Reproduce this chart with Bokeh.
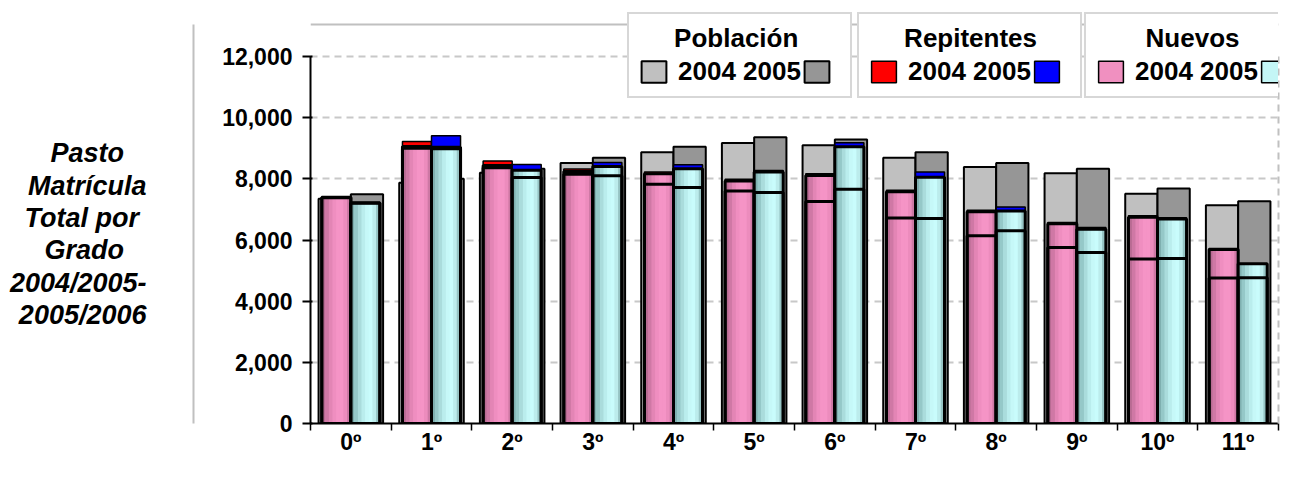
import numpy as np
from bokeh.plotting import figure
from bokeh.models import (ColumnDataSource, Range1d, FixedTicker, NumeralTickFormatter,
                          Legend, LegendItem, LinearAxis, Span)
from bokeh.transform import dodge
from bokeh.embed import file_html
from bokeh.resources import INLINE

# ---------------- data ----------------
grados = ["0º", "1º", "2º", "3º", "4º", "5º", "6º", "7º", "8º", "9º", "10º", "11º"]

poblacion_2004 = [7350, 7870, 8200, 8520, 8870, 9170, 9100, 8690, 8390, 8180, 7510, 7140]
poblacion_2005 = [7500, 8000, 8330, 8690, 9050, 9360, 9290, 8870, 8520, 8330, 7680, 7270]

nuevos_2004 = [7400, 9060, 8440, 8240, 8170, 7930, 8110, 7580, 6920, 6530, 6740, 5690]
nuevos_2004_interno = [7380, 9000, 8360, 8150, 7820, 7605, 7260, 6720, 6136, 5755, 5375, 4755]
repitentes_2004 = [0, 160, 140, 80, 55, 55, 60, 50, 55, 40, 50, 35]

nuevos_2005 = [7220, 9030, 8280, 8400, 8330, 8220, 9050, 8050, 6950, 6350, 6690, 5220]
nuevos_2005_interno = [7200, 8980, 8040, 8100, 7720, 7550, 7660, 6700, 6300, 5590, 5395, 4765]
repitentes_2005 = [0, 380, 190, 130, 130, 50, 130, 170, 130, 60, 40, 0]

ticks_y = [0, 2000, 4000, 6000, 8000, 10000, 12000]
titulo_eje = ["Pasto", "Matrícula", "Total por", "Grado", "2004/2005-", "2005/2006"]

# ---------------- source ----------------
n = len(grados)
xc = np.arange(n) + 0.5
src = ColumnDataSource(dict(
    x=xc,
    pob04=poblacion_2004, pob05=poblacion_2005,
    nue04=nuevos_2004, int04=nuevos_2004_interno,
    tot04=np.array(nuevos_2004) + np.array(repitentes_2004),
    nue05=nuevos_2005, int05=nuevos_2005_interno,
    tot05=np.array(nuevos_2005) + np.array(repitentes_2005),
))

FONT = "Liberation Sans"
NB = "\u00a0"

# frame: x 310..1278, y 12..423 ; value 12000 sits at y=56
YTOP = 12000 * (423 - 12) / (423 - 56)
YBORDER = YTOP * (423 - 24) / (423 - 12)

p = figure(width=1293, height=483, output_backend="svg", toolbar_location=None,
           x_range=Range1d(0, n), y_range=Range1d(0, YTOP),
           min_border_left=310, min_border_right=15, min_border_top=12, min_border_bottom=60,
           background_fill_color="white", border_fill_color="white")

p.outline_line_color = None

p.xgrid.grid_line_color = None
p.ygrid.grid_line_color = "#c8c8c8"
p.ygrid.grid_line_dash = "7 5"
p.ygrid.grid_line_width = 2

# ---------------- axes ----------------
ya = p.yaxis[0]
ya.ticker = FixedTicker(ticks=ticks_y)
ya.bounds = (0, 12000)
ya.formatter = NumeralTickFormatter(format="0,0")
ya.major_label_text_font = FONT
ya.major_label_text_font_style = "bold"
ya.major_label_text_font_size = "23px"
ya.major_label_text_color = "black"
ya.major_tick_out = 8
ya.major_tick_in = 2
ya.major_tick_line_width = 2
ya.minor_tick_line_color = None
ya.axis_line_width = 2
ya.major_label_standoff = 10
ya.axis_label = NB
ya.axis_label_text_font_size = "10px"
ya.axis_label_standoff = 12

xa = p.xaxis[0]
xa.ticker = FixedTicker(ticks=list(xc), minor_ticks=list(range(n + 1)))
xa.major_label_overrides = {float(v): g for v, g in zip(xc, grados)}
xa.major_tick_line_color = None
xa.major_tick_out = 0
xa.major_tick_in = 0
xa.minor_tick_out = 7
xa.minor_tick_in = 0
xa.minor_tick_line_width = 1.5
xa.minor_tick_line_color = "black"
xa.axis_line_width = 2
xa.major_label_text_font = FONT
xa.major_label_text_font_style = "bold"
xa.major_label_text_font_size = "23px"
xa.major_label_text_color = "black"
xa.major_label_standoff = -2

# centre each title line (the label block is right-aligned): pad with no-break spaces
pads = [3, 0, 1, 3, 0, 0]
titulo_txt = "\n".join([NB] + [t + NB * k for t, k in zip(titulo_eje, pads)])

# chart-area border (left) carrying the vertical title
border_axis = LinearAxis(ticker=FixedTicker(ticks=[]), bounds=(0, YBORDER),
                         axis_line_color="#c0c0c0", axis_line_width=2,
                         major_tick_line_color=None, minor_tick_line_color=None,
                         major_tick_out=0, major_tick_in=0, minor_tick_out=0,
                         axis_label=titulo_txt,
                         axis_label_orientation="horizontal",
                         axis_label_text_align="center",
                         axis_label_text_font=FONT,
                         axis_label_text_font_style="bold italic",
                         axis_label_text_font_size="27px",
                         axis_label_text_line_height=1.076,
                         axis_label_text_color="black",
                         axis_label_standoff=47)
p.add_layout(border_axis, "left")

# dashed plot-area border on the right
right_axis = LinearAxis(ticker=FixedTicker(ticks=[]), bounds=(0, 12000),
                        axis_line_color="#c0c0c0", axis_line_width=2, axis_line_dash="7 5",
                        major_tick_line_color=None, minor_tick_line_color=None,
                        major_tick_out=0, major_tick_in=0, minor_tick_out=0)
p.add_layout(right_axis, "right")

# chart-area border (top)
p.add_layout(Span(location=YBORDER, dimension="width", line_color="#c0c0c0",
                  line_width=2, level="underlay"))

# ---------------- bars ----------------
GW, GO = 0.4, 0.2     # poblacion width / offset
BW, BO = 0.36, 0.18   # nuevos width / offset

r_pob04 = p.vbar(x=dodge("x", -GO), width=GW, top="pob04", bottom=0, source=src,
                 fill_color="#c0c0c0", line_color="black", line_width=2)
r_pob05 = p.vbar(x=dodge("x", GO), width=GW, top="pob05", bottom=0, source=src,
                 fill_color="#969696", line_color="black", line_width=2)

pink_grad = ["#b86b93", "#cf78a5", "#e385b5", "#ef8ec0", "#f594c6", "#f594c6", "#ec8cbd", "#cd78a4"]
cyan_grad = ["#7fb0b0", "#95c8c8", "#aadcdc", "#baeded", "#c6f8f8", "#c9fcfc", "#bcecec", "#96c4c4"]

def grupo(off, nue, inn, tot, base_col, grad, rep_col):
    base = p.vbar(x=dodge("x", off), width=BW, top=nue, bottom=0, source=src,
                  fill_color=base_col, line_color="black", line_width=1.5)
    k = len(grad)
    step = BW / k
    for i, c in enumerate(grad):
        o = off - BW / 2 + (i + 0.5) * step
        p.vbar(x=dodge("x", o), width=step + 0.004, top=nue, bottom=0, source=src,
               fill_color=c, line_color=None)
    rep = p.vbar(x=dodge("x", off), width=BW, top=tot, bottom=nue, source=src,
                 fill_color=rep_col, line_color="black", line_width=1.5)
    p.vbar(x=dodge("x", off), width=BW, top=nue, bottom=0, source=src,
           fill_alpha=0, line_color="black", line_width=3)
    p.vbar(x=dodge("x", off), width=BW, top=inn, bottom=0, source=src,
           fill_alpha=0, line_color="black", line_width=3)
    return base, rep

r_nue04, r_rep04 = grupo(-BO, "nue04", "int04", "tot04", "#f090c0", pink_grad, "#ff0000")
r_nue05, r_rep05 = grupo(BO, "nue05", "int05", "tot05", "#c4f6f6", cyan_grad, "#0000ff")

# ---------------- legends ----------------
def leyenda(title, pad, r1, r2, x):
    lg = Legend(items=[LegendItem(label="2004 2005", renderers=[r1]),
                       LegendItem(label="", renderers=[r2])],
                title=NB * pad + title, orientation="horizontal", location=(x, 325))
    lg.title_text_font = FONT
    lg.title_text_font_style = "bold"
    lg.title_text_font_size = "26px"
    lg.title_text_color = "black"
    lg.title_standoff = 2
    lg.label_text_font = FONT
    lg.label_text_font_style = "bold"
    lg.label_text_font_size = "26px"
    lg.label_text_color = "black"
    lg.label_width = 0
    lg.label_standoff = 9
    lg.glyph_width = 31
    lg.glyph_height = 27
    lg.spacing = 0
    lg.padding = 9
    lg.margin = 0
    lg.border_line_color = "#b0b0b0"
    lg.border_line_width = 2
    lg.background_fill_color = "white"
    lg.background_fill_alpha = 1
    p.add_layout(lg, "center")

leyenda("Población", 5, r_pob04, r_pob05, 317)
leyenda("Repitentes", 5, r_rep04, r_rep05, 547)
leyenda("Nuevos", 7, r_nue04, r_nue05, 774)

open("out.html", "w").write(file_html(p, INLINE))
